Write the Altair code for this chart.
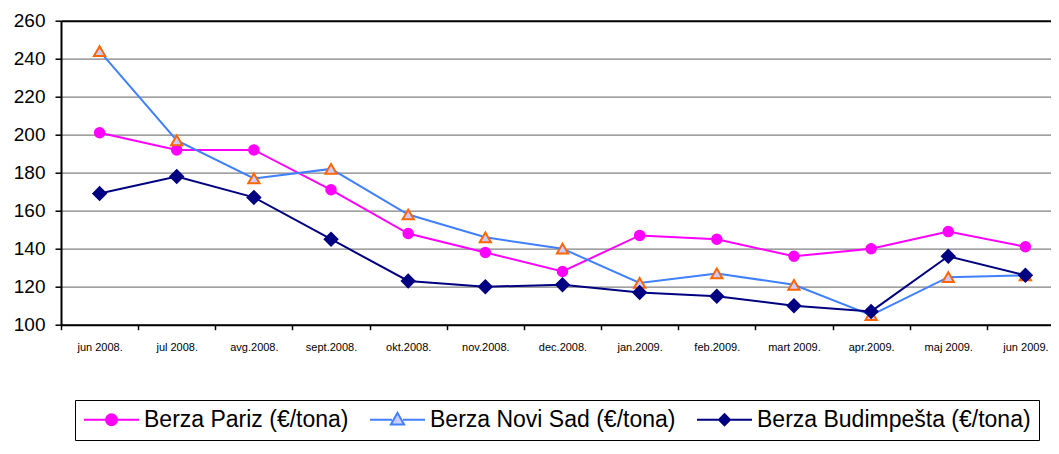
import altair as alt
import pandas as pd

months = ["jun 2008.", "jul 2008.", "avg.2008.", "sept.2008.", "okt.2008.", "nov.2008.",
          "dec.2008.", "jan.2009.", "feb.2009.", "mart 2009.", "apr.2009.", "maj 2009.", "jun 2009."]
series_names = ["Berza Pariz (€/tona)", "Berza Novi Sad (€/tona)", "Berza Budimpešta (€/tona)"]
pariz = [201, 192, 192, 171, 148, 138, 128, 147, 145, 136, 140, 149, 141]
novi_sad = [244, 197, 177, 182, 158, 146, 140, 122, 127, 121, 105, 125, 126]
budimpesta = [169, 178, 167, 145, 123, 120, 121, 117, 115, 110, 107, 136, 126]
y_ticks = [100, 120, 140, 160, 180, 200, 220, 240, 260]

line_colors = ["#ff00ff", "#4080ff", "#000080"]
marker_shapes = ["circle", "triangle-up", "diamond"]
marker_fills = ["#ff00ff", "#ccccff", "#000080"]
marker_strokes = ["#ff00ff", "#ff6600", "#000080"]
marker_sizes = [90, 160, 130]
legend_shapes = [
    "M-1,0L1,0M0.2,0A0.2,0.2,0,1,1,-0.2,0A0.2,0.2,0,1,1,0.2,0Z",
    "M-1,0L-0.2,0M0.2,0L1,0M0,-0.25L0.24,0.17L-0.24,0.17Z",
    "M-1,0L1,0M0,-0.2L0.2,0L0,0.2L-0.2,0Z",
]
legend_fills = ["#ff00ff", "#ccccff", "#000080"]
legend_strokes = ["#ff00ff", "#4080ff", "#000080"]

rows = []
for name, vals in zip(series_names, [pariz, novi_sad, budimpesta]):
    for i, (m, v) in enumerate(zip(months, vals)):
        rows.append({"month": m, "series": name, "value": v, "order": i})
df = pd.DataFrame(rows)

FONT = "Liberation Sans"

x_enc = alt.X(
    "month:N",
    scale=alt.Scale(type="band", domain=months, paddingInner=0, paddingOuter=0, range=[0, 1003]),
    axis=alt.Axis(title=None, labelAngle=0, labelFontSize=11, labelColor="black", labelFont=FONT,
                  tickBand="extent", tickSize=5, tickColor="black", tickWidth=1.5,
                  domainColor="black", domainWidth=2, grid=False, labelPadding=12,
                  labelOverlap=False),
)
y_enc = alt.Y(
    "value:Q",
    scale=alt.Scale(domain=[100, 260], nice=False, zero=False),
    axis=alt.Axis(values=y_ticks, title=None, grid=True,
                  gridColor={"condition": {"test": "datum.value === 260", "value": "#000000"}, "value": "#808080"},
                  gridWidth={"condition": {"test": "datum.value === 260", "value": 2}, "value": 1.3},
                  domainColor="black", domainWidth=2, tickColor="black", tickWidth=1.5, tickSize=6,
                  labelFontSize=19, labelColor="black", labelPadding=10, labelFont=FONT),
)

lines = alt.Chart(df).mark_line(strokeWidth=2).encode(
    x=x_enc, y=y_enc,
    color=alt.Color("series:N", scale=alt.Scale(domain=series_names, range=line_colors), legend=None),
    order=alt.Order("order:Q"),
)

points = alt.Chart(df).mark_point(opacity=1, strokeWidth=2).encode(
    x=x_enc, y=y_enc,
    shape=alt.Shape("series:N", scale=alt.Scale(domain=series_names, range=marker_shapes), legend=None),
    fill=alt.Fill("series:N", scale=alt.Scale(domain=series_names, range=marker_fills), legend=None),
    stroke=alt.Stroke("series:N", scale=alt.Scale(domain=series_names, range=marker_strokes), legend=None),
    size=alt.Size("series:N", scale=alt.Scale(domain=series_names, range=marker_sizes), legend=None),
)

leg = alt.Legend(title=None, orient="none", legendX=14, legendY=379.3, direction="horizontal",
                 columns=3, labelLimit=0)
legend_layer = alt.Chart(df).transform_filter("false").mark_point(opacity=1, strokeWidth=2).encode(
    shape=alt.Shape("series:N", scale=alt.Scale(domain=series_names, range=legend_shapes), legend=leg),
    fill=alt.Fill("series:N", scale=alt.Scale(domain=series_names, range=legend_fills), legend=leg),
    stroke=alt.Stroke("series:N", scale=alt.Scale(domain=series_names, range=legend_strokes), legend=leg),
)

chart = alt.layer(lines, points, legend_layer).resolve_scale(
    shape="independent", fill="independent", stroke="independent"
).properties(
    width=990, height=304,
    autosize=alt.AutoSizeParams(type="none"),
    padding={"left": 53, "top": 12.7, "right": 0, "bottom": 117.3},
).configure(font=FONT).configure_view(stroke=None).configure_legend(
    labelFont=FONT, labelFontSize=23, labelColor="black", labelOffset=4, labelLimit=0,
    columnPadding=20, padding=8, clipHeight=23, strokeColor="black",
    symbolSize=3025, symbolStrokeWidth=2, symbolOpacity=1, symbolOffset=0,
    symbolLimit=10,
)

chart.save("out.html", embed_options={"renderer": "svg", "actions": False})
